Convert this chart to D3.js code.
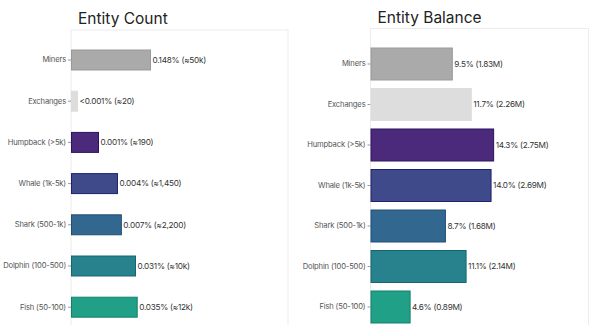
<!DOCTYPE html>
<html><head><meta charset="utf-8">
<script src="https://cdn.jsdelivr.net/npm/d3@7"></script>
<style>
html,body{margin:0;padding:0;background:#fff;}
svg{display:block;font-family:Inter, "Noto Sans", sans-serif;}
</style></head>
<body>
<svg id="c" width="600" height="325"></svg>
<script>
const categories = ["Miners","Exchanges","Humpback (>5k)","Whale (1k-5k)","Shark (500-1k)","Dolphin (100-500)","Fish (50-100)"];
const countValues = [50000, 20, 190, 1450, 2200, 10000, 12000];
const countLabels = ["0.148% (≈50k)","<0.001% (≈20)","0.001% (≈190)","0.004% (≈1,450)","0.007% (≈2,200)","0.031% (≈10k)","0.035% (≈12k)"];
const balanceValues = [9.5, 11.7, 14.3, 14.0, 8.7, 11.1, 4.6];
const balanceLabels = ["9.5% (1.83M)","11.7% (2.26M)","14.3% (2.75M)","14.0% (2.69M)","8.7% (1.68M)","11.1% (2.14M)","4.6% (0.89M)"];
const fills = ["#aaaaaa","#dddddd","#4b2a7b","#3f4a8a","#32688f","#27828e","#20a087"];
const strokes = ["#999999","#dddddd","#2c1360","#1c2270","#1f4f7a","#15676f","#12806c"];

const svg = d3.select("#c");

function panel(cfg){
  const g = svg.append("g");
  g.append("rect").attr("x", cfg.x0).attr("y", cfg.top)
    .attr("width", cfg.x1 - cfg.x0).attr("height", 400)
    .attr("fill","none").attr("stroke","#ececec").attr("stroke-width",1);
  g.append("text").attr("x", cfg.x0 + 7).attr("y", cfg.top - 6)
    .attr("font-size", 15.5).attr("fill","#222").text(cfg.title);
  const y = d3.scaleBand().domain(categories)
    .range(cfg.yr).paddingInner(cfg.pad).paddingOuter(cfg.pad/2);
  const x = cfg.x;
  const yAxis = g.append("g").attr("transform", `translate(${cfg.x0},0)`)
    .call(d3.axisLeft(y).tickSize(3).tickPadding(2));
  yAxis.select(".domain").remove();
  yAxis.selectAll(".tick line").attr("stroke","#999");
  yAxis.selectAll(".tick text").attr("font-size", 7.6).attr("fill","#555")
    .attr("letter-spacing", -0.15)
    .attr("font-family","Inter, 'Noto Sans', sans-serif");
  g.selectAll(".bar").data(categories).join("rect")
    .attr("x", cfg.x0 + 0.5)
    .attr("y", d => y(d))
    .attr("width", (d,i) => Math.max(0, x(cfg.values[i]) - 0.5))
    .attr("height", y.bandwidth())
    .attr("fill", (d,i) => fills[i])
    .attr("stroke", (d,i) => strokes[i]).attr("stroke-width", 1);
  g.selectAll(".lbl").data(categories).join("text")
    .attr("x", (d,i) => cfg.x0 + x(cfg.values[i]) + 2)
    .attr("y", d => y(d) + y.bandwidth()/2)
    .attr("dy","0.35em").attr("font-size", 8.2).attr("fill","#333")
    .attr("letter-spacing", -0.25)
    .text((d,i) => cfg.labels[i]);
}

panel({
  title: "Entity Count", x0: 71, x1: 288, top: 30,
  yr: [39.4, 327.8], pad: 0.515,
  x: d3.scaleLog().domain([10, 1e5]).range([0, 86]),
  values: countValues, labels: countLabels
});
panel({
  title: "Entity Balance", x0: 370.5, x1: 588.5, top: 28.5,
  yr: [43.75, 327.25], pad: 0.21,
  x: d3.scaleLinear().domain([0, 25.2]).range([0, 217]),
  values: balanceValues, labels: balanceLabels
});
</script>
</body></html>
